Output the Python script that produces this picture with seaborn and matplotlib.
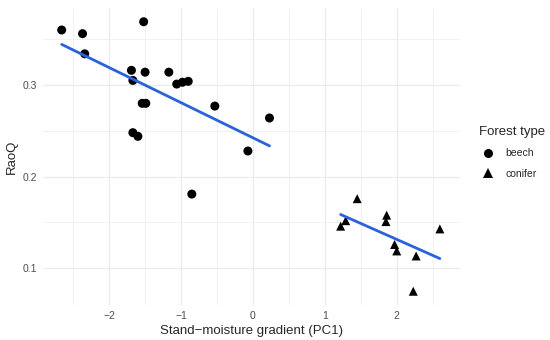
import numpy as np
import pandas as pd
import seaborn as sns
import matplotlib.pyplot as plt
from matplotlib.ticker import MultipleLocator
from matplotlib.lines import Line2D

# valori
beech_x = [-2.66, -2.37, -2.34, -1.52, -1.69, -1.67, -1.50, -1.17, -1.06, -0.98,
           -0.90, -1.54, -1.49, -0.53, 0.23, -1.67, -1.60, -0.07, -0.85]
beech_y = [0.360, 0.356, 0.334, 0.369, 0.316, 0.305, 0.314, 0.314, 0.301, 0.303,
           0.304, 0.280, 0.280, 0.277, 0.264, 0.248, 0.244, 0.228, 0.181]

conifer_x = [1.45, 1.22, 1.29, 1.86, 1.85, 2.60, 1.97, 2.00, 2.27, 2.23]
conifer_y = [0.176, 0.146, 0.152, 0.158, 0.151, 0.143, 0.126, 0.119, 0.1135, 0.075]

df = pd.DataFrame({
    "PC1": beech_x + conifer_x,
    "RaoQ": beech_y + conifer_y,
    "Forest type": ["beech"] * len(beech_x) + ["conifer"] * len(conifer_x),
})

sns.set_theme(style="white")
plt.rcParams["font.family"] = ["Liberation Sans", "DejaVu Sans"]

fig = plt.figure(figsize=(5.5, 3.4), dpi=100)
ax = fig.add_axes([43 / 550, 35 / 340, 417 / 550, 297 / 340])

# griglia stile theme_minimal
ax.xaxis.set_major_locator(MultipleLocator(1))
ax.xaxis.set_minor_locator(MultipleLocator(0.5))
ax.yaxis.set_major_locator(MultipleLocator(0.1))
ax.yaxis.set_minor_locator(MultipleLocator(0.05))
ax.grid(True, which="major", color="#EBEBEB", lw=0.9)
ax.grid(True, which="minor", color="#EBEBEB", lw=0.5)
ax.set_axisbelow(True)

sns.scatterplot(data=df, x="PC1", y="RaoQ", style="Forest type",
                markers={"beech": "o", "conifer": "^"}, color="black",
                s=42, linewidth=0, ax=ax, legend=False, zorder=3)

for grp in ["beech", "conifer"]:
    sub = df[df["Forest type"] == grp]
    sns.regplot(data=sub, x="PC1", y="RaoQ", scatter=False, ci=None,
                color="#2A62DC", line_kws={"lw": 2, "zorder": 4}, ax=ax)

ax.set_xlim(-2.92, 2.88)
ax.set_ylim(0.06, 0.384)
ax.set_xticks([-2, -1, 0, 1, 2])
ax.set_xticklabels(["\u22122", "\u22121", "0", "1", "2"])
ax.set_yticks([0.1, 0.2, 0.3])
ax.set_yticklabels(["0.1", "0.2", "0.3"])
ax.tick_params(axis="both", which="both", length=0, labelsize=7.5,
               labelcolor="#4D4D4D", pad=4)
ax.set_xlabel("Stand\u2212moisture gradient (PC1)", fontsize=9.5, labelpad=3)
ax.set_ylabel("RaoQ", fontsize=9.5, labelpad=4)
for s in ax.spines.values():
    s.set_visible(False)

handles = [
    Line2D([], [], marker="o", ls="", color="black", markersize=6.5, mew=0),
    Line2D([], [], marker="^", ls="", color="black", markersize=6.5, mew=0),
]
leg = fig.legend(handles, ["beech", "conifer"], title="Forest type",
                 loc="upper left", bbox_to_anchor=(479 / 550, 1 - 126 / 340),
                 frameon=False, fontsize=7.5, title_fontsize=9.5,
                 handlelength=1.7, handletextpad=0.8, labelspacing=1.0,
                 borderpad=0, borderaxespad=0, alignment="left")

plt.savefig("out.png", dpi=100)
